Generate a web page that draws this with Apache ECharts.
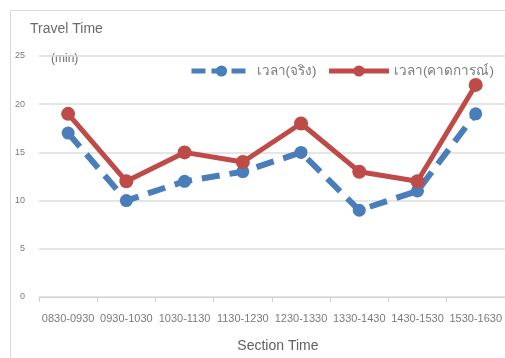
<!DOCTYPE html>
<html>
<head>
<meta charset="utf-8">
<script src="https://cdn.jsdelivr.net/npm/echarts@6/dist/echarts.min.js"></script>
<style>
html,body{margin:0;padding:0;background:#fff;}
#chart{width:505px;height:358px;}
</style>
</head>
<body>
<div id="chart"></div>
<script>
// Section periods along the day
var sections = ['0830-0930','0930-1030','1030-1130','1130-1230','1230-1330','1330-1430','1430-1530','1530-1630'];
// Travel time in minutes
var actualTime = [17, 10, 12, 13, 15, 9, 11, 19];
var forecastTime = [19, 12, 15, 14, 18, 13, 12, 22];
var yTicks = [0, 5, 10, 15, 20, 25];

var blue = '#4a7ebb';
var red = '#be4b48';
var font = '"Liberation Sans", "Noto Sans", Arial, sans-serif';

var chart = echarts.init(document.getElementById('chart'));
chart.setOption({
  animation: false,
  backgroundColor: '#fff',
  textStyle: { fontFamily: font },
  graphic: [
    { type: 'rect', shape: { x: 10.5, y: 10.5, width: 520, height: 400 },
      style: { fill: 'none', stroke: '#d9d9d9', lineWidth: 1 } },
    { type: 'text', left: 30, top: 22,
      style: { text: 'Travel Time', fill: '#6a6a6a', font: '14px ' + font } },
    { type: 'text', left: 51, top: 53,
      style: { text: '(min)', fill: '#6a6a6a', font: '12px ' + font } }
  ],
  legend: {
    left: 184, top: 59,
    itemWidth: 60, itemHeight: 14, itemGap: 10,
    textStyle: { color: '#7a7a7a', fontSize: 13.5, fontFamily: font },
    data: [
      { name: 'เวลา(จริง)', lineStyle: { width: 5, type: [14, 6] } },
      { name: 'เวลา(คาดการณ์)', lineStyle: { width: 5 } }
    ]
  },
  grid: { left: 39, right: 0, top: 56, bottom: 55 },
  xAxis: {
    type: 'category',
    data: sections,
    boundaryGap: true,
    axisLine: { lineStyle: { color: '#d0d0d0' } },
    axisTick: { show: true, length: 5, lineStyle: { color: '#d0d0d0' } },
    axisLabel: { color: '#7a7a7a', fontSize: 11, margin: 16, interval: 0 },
    name: 'Section Time',
    nameLocation: 'middle',
    nameGap: 42,
    nameTextStyle: { color: '#606060', fontSize: 14, padding: [0, 0, 0, 12] }
  },
  yAxis: {
    type: 'value',
    min: yTicks[0], max: yTicks[yTicks.length - 1], interval: 5,
    axisLine: { show: false },
    axisTick: { show: false },
    axisLabel: { color: '#7a7a7a', fontSize: 9, margin: 14 },
    splitLine: { lineStyle: { color: '#dcdcdc', width: 1.5 } }
  },
  series: [
    {
      name: 'เวลา(จริง)',
      type: 'line',
      data: actualTime,
      symbol: 'circle', symbolSize: 13,
      itemStyle: { color: blue },
      lineStyle: { color: blue, width: 6, type: [18, 10] },
      z: 2
    },
    {
      name: 'เวลา(คาดการณ์)',
      type: 'line',
      data: forecastTime,
      symbol: 'circle', symbolSize: 14,
      itemStyle: { color: red },
      lineStyle: { color: red, width: 5 },
      z: 3
    }
  ]
});
</script>
</body>
</html>
